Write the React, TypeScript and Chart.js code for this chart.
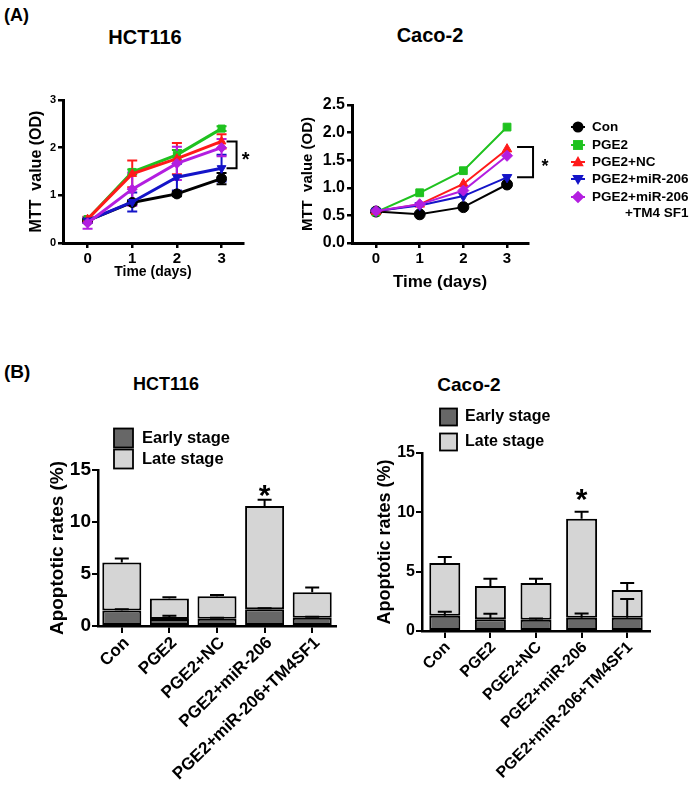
import React, { useEffect, useRef } from 'react';
import { Chart, registerables } from 'chart.js';

Chart.register(...registerables);

const FONT = 'Arial, "Liberation Sans", Helvetica, sans-serif';
Chart.defaults.font.family = FONT;
Chart.defaults.color = '#000';

// ---------- (A) MTT assay data ----------
const days = [0, 1, 2, 3];
const seriesLabels = ['Con', 'PGE2', 'PGE2+NC', 'PGE2+miR-206', 'PGE2+miR-206+TM4SF1'];
const legendLines = [['Con'], ['PGE2'], ['PGE2+NC'], ['PGE2+miR-206'], ['PGE2+miR-206', '+TM4 SF1']];

const hctCon = [0.47, 0.85, 1.03, 1.35];
const hctPGE2 = [0.5, 1.49, 1.85, 2.4];
const hctNC = [0.5, 1.45, 1.77, 2.13];
const hctMiR206 = [0.47, 0.86, 1.38, 1.57];
const hctTM4SF1 = [0.42, 1.13, 1.67, 2.0];

const hctConErr = [0.04, 0.04, 0.05, 0.12];
const hctPGE2Err = [0.04, 0.05, 0.1, 0.05];
const hctNCErr = [0.05, 0.28, 0.33, 0.15];
const hctMiR206Err = [0.05, 0.2, 0.28, 0.28];
const hctTM4SF1Err = [0.12, 0.35, 0.35, 0.18];

const cacoCon = [0.57, 0.52, 0.65, 1.06];
const cacoPGE2 = [0.56, 0.91, 1.31, 2.1];
const cacoNC = [0.57, 0.7, 1.07, 1.7];
const cacoMiR206 = [0.58, 0.68, 0.85, 1.19];
const cacoTM4SF1 = [0.58, 0.7, 0.95, 1.58];

// ---------- (B) apoptosis data ----------
const groups = ['Con', 'PGE2', 'PGE2+NC', 'PGE2+miR-206', 'PGE2+miR-206+TM4SF1'];
const stageLabels = ['Early stage', 'Late stage'];

const hctEarly = [1.5, 0.68, 0.7, 1.6, 0.8];
const hctEarlyErr = [0.1, 0.3, 0.1, 0.1, 0.1];
const hctLate = [4.6, 1.97, 2.15, 9.95, 2.45];
const hctLateErr = [0.4, 0.12, 0.12, 0.6, 0.45];

const cacoEarly = [1.28, 1.0, 0.95, 1.12, 1.12];
const cacoEarlyErr = [0.35, 0.45, 0.1, 0.35, 1.58];
const cacoLate = [4.45, 2.8, 3.1, 8.33, 2.33];
const cacoLateErr = [0.5, 0.6, 0.35, 0.6, 0.6];

// ---------- styles ----------
const seriesColors = ['#000000', '#1fc21f', '#ff1a1a', '#1414c8', '#b31ee0'];
const seriesPointStyles = ['circle', 'rect', 'triangle', 'triangle', 'rectRot'];
const seriesRotations = [0, 0, 0, 180, 0];
const EARLY = '#676767';
const LATE = '#d5d5d5';

// ---------- plugins ----------
function lineErrorPlugin(errs: number[][], capHalf: number, lw: number) {
  return {
    id: 'lineErr',
    beforeDatasetsDraw(chart: any) {
      const ctx = chart.ctx;
      const y = chart.scales.y;
      ctx.save();
      chart.data.datasets.forEach((ds: any, di: number) => {
        const e = errs[di];
        if (!e) return;
        const meta = chart.getDatasetMeta(di);
        meta.data.forEach((pt: any, i: number) => {
          const v = ds.data[i].y;
          const top = y.getPixelForValue(v + e[i]);
          const bot = y.getPixelForValue(v - e[i]);
          ctx.strokeStyle = ds.borderColor;
          ctx.lineWidth = lw;
          ctx.beginPath();
          ctx.moveTo(pt.x, top);
          ctx.lineTo(pt.x, bot);
          ctx.moveTo(pt.x - capHalf, top);
          ctx.lineTo(pt.x + capHalf, top);
          ctx.moveTo(pt.x - capHalf, bot);
          ctx.lineTo(pt.x + capHalf, bot);
          ctx.stroke();
        });
      });
      ctx.restore();
    },
  };
}

function bracketPlugin(xVal: number, fromVal: number, toVal: number, dx1: number, dx2: number, starDx: number, starFont: number) {
  return {
    id: 'bracket',
    afterDatasetsDraw(chart: any) {
      const { ctx } = chart;
      const x = chart.scales.x;
      const y = chart.scales.y;
      const px = x.getPixelForValue(xVal);
      const y1 = y.getPixelForValue(fromVal);
      const y2 = y.getPixelForValue(toVal);
      ctx.save();
      ctx.strokeStyle = '#000';
      ctx.lineWidth = 2;
      ctx.beginPath();
      ctx.moveTo(px + dx1, y1);
      ctx.lineTo(px + dx2, y1);
      ctx.lineTo(px + dx2, y2);
      ctx.lineTo(px + dx1, y2);
      ctx.stroke();
      ctx.fillStyle = '#000';
      ctx.font = `bold ${starFont}px ${FONT}`;
      ctx.textAlign = 'center';
      ctx.textBaseline = 'alphabetic';
      ctx.fillText('*', px + starDx, (y1 + y2) / 2 + starFont * 0.57);
      ctx.restore();
    },
  };
}

function drawMarker(ctx: CanvasRenderingContext2D, style: string, rot: number, x: number, y: number, r: number) {
  ctx.beginPath();
  if (style === 'circle') {
    ctx.arc(x, y, r, 0, Math.PI * 2);
  } else if (style === 'rect') {
    const s = r * 0.9;
    ctx.rect(x - s, y - s, 2 * s, 2 * s);
  } else if (style === 'triangle') {
    const d = rot === 180 ? -1 : 1;
    ctx.moveTo(x, y - d * r * 1.1);
    ctx.lineTo(x - r * 1.05, y + d * r * 0.75);
    ctx.lineTo(x + r * 1.05, y + d * r * 0.75);
    ctx.closePath();
  } else {
    ctx.moveTo(x, y - r * 1.15);
    ctx.lineTo(x + r * 1.15, y);
    ctx.lineTo(x, y + r * 1.15);
    ctx.lineTo(x - r * 1.15, y);
    ctx.closePath();
  }
  ctx.fill();
}

function markerLegendPlugin(markerDx: number, textDx: number, rowDys: number[], fontSize: number, r: number, lineGap: number) {
  return {
    id: 'markerLegend',
    afterDraw(chart: any) {
      const { ctx, chartArea } = chart;
      ctx.save();
      ctx.font = `bold ${fontSize}px ${FONT}`;
      ctx.textBaseline = 'middle';
      legendLines.forEach((lines, i) => {
        const yy = chartArea.top + rowDys[i];
        ctx.fillStyle = seriesColors[i];
        drawMarker(ctx, seriesPointStyles[i], seriesRotations[i], chartArea.right + markerDx, yy, r);
        ctx.strokeStyle = seriesColors[i];
        ctx.lineWidth = 2;
        ctx.beginPath();
        ctx.moveTo(chartArea.right + markerDx - 7, yy);
        ctx.lineTo(chartArea.right + markerDx + 7, yy);
        ctx.stroke();
        ctx.fillStyle = '#000';
        ctx.textAlign = 'left';
        const x0 = chartArea.right + textDx;
        ctx.fillText(lines[0], x0, yy);
        if (lines.length > 1) {
          const w = ctx.measureText(lines[0]).width;
          ctx.textAlign = 'right';
          ctx.fillText(lines[1], x0 + w, yy + lineGap);
        }
      });
      ctx.restore();
    },
  };
}

function barExtrasPlugin(errs: number[][], capHalf: number, starIndex: number, starFont: number, starGap: number,
  boxDx: number, textDx: number, boxSize: number, rowDys: number[], legendFont: number) {
  return {
    id: 'barExtras',
    afterDatasetsDraw(chart: any) {
      const { ctx, chartArea } = chart;
      const y = chart.scales.y;
      const zero = y.getPixelForValue(0);
      ctx.save();
      ctx.strokeStyle = '#000';
      ctx.lineWidth = 2;
      chart.data.datasets.forEach((ds: any, di: number) => {
        const meta = chart.getDatasetMeta(di);
        meta.data.forEach((bar: any, i: number) => {
          const errPx = zero - y.getPixelForValue(errs[di][i]);
          const top = bar.y - errPx;
          ctx.beginPath();
          ctx.moveTo(bar.x, bar.y);
          ctx.lineTo(bar.x, top);
          ctx.moveTo(bar.x - capHalf, top);
          ctx.lineTo(bar.x + capHalf, top);
          ctx.stroke();
        });
      });
      // asterisk
      const last = chart.data.datasets.length - 1;
      const b = chart.getDatasetMeta(last).data[starIndex];
      const errTop = b.y - (zero - y.getPixelForValue(errs[last][starIndex]));
      ctx.fillStyle = '#000';
      ctx.font = `bold ${starFont}px ${FONT}`;
      ctx.textAlign = 'center';
      ctx.textBaseline = 'alphabetic';
      ctx.fillText('*', b.x, errTop - starGap + starFont * 0.57);
      // legend
      ctx.font = `bold ${legendFont}px ${FONT}`;
      ctx.textAlign = 'left';
      ctx.textBaseline = 'middle';
      stageLabels.forEach((lab, i) => {
        const yy = chartArea.top + rowDys[i];
        const bx = chartArea.left + boxDx;
        ctx.fillStyle = i === 0 ? EARLY : LATE;
        ctx.fillRect(bx, yy - boxSize / 2, boxSize, boxSize);
        ctx.lineWidth = 1.8;
        ctx.strokeRect(bx, yy - boxSize / 2, boxSize, boxSize);
        ctx.fillStyle = '#000';
        ctx.fillText(lab, chartArea.left + textDx, yy);
      });
      ctx.restore();
    },
  };
}

// ---------- chart factories ----------
type LineCfg = {
  values: number[][];
  yMax: number;
  yStep: number;
  yDecimals: number;
  pad: { left: number; top: number; right: number; bottom: number };
  yWidth: number;
  xHeight: number;
  yTickFont: number;
  xTickFont: number;
  yTitleFont: number;
  yTitlePad: number;
  xTitleFont: number;
  xTitlePad: number;
  lineWidth: number;
  pointRadius: number;
  plugins: any[];
};

function makeLineChart(canvas: HTMLCanvasElement, cfg: LineCfg) {
  const datasets = cfg.values.map((vals, i) => ({
    label: seriesLabels[i],
    data: days.map((d, j) => ({ x: d, y: vals[j] })),
    borderColor: seriesColors[i],
    backgroundColor: seriesColors[i],
    pointBackgroundColor: seriesColors[i],
    pointBorderColor: seriesColors[i],
    pointStyle: seriesPointStyles[i],
    rotation: seriesRotations[i],
    pointRotation: seriesRotations[i],
    pointRadius: cfg.pointRadius,
    pointBorderWidth: 1,
    borderWidth: cfg.lineWidth,
    tension: 0,
    clip: false,
    order: 4 - i,
  }));
  return new Chart(canvas, {
    type: 'line',
    data: { datasets } as any,
    plugins: cfg.plugins,
    options: {
      responsive: false,
      animation: false,
      events: [],
      layout: { padding: cfg.pad },
      plugins: { legend: { display: false }, tooltip: { enabled: false } },
      scales: {
        x: {
          type: 'linear',
          min: -0.55,
          max: 3.48,
          afterBuildTicks: (s: any) => { s.ticks = days.map((v) => ({ value: v })); },
          afterFit: (s: any) => { s.height = cfg.xHeight; },
          border: { color: '#000', width: 3 },
          grid: { display: true, drawOnChartArea: false, drawTicks: true, tickLength: 5, color: '#000', lineWidth: 2.5 },
          ticks: { color: '#000', font: { size: cfg.xTickFont, weight: 'bold' }, padding: 2, maxRotation: 0, autoSkip: false },
          title: { display: true, text: 'Time (days)', color: '#000', font: { size: cfg.xTitleFont, weight: 'bold' }, padding: { top: 0, bottom: cfg.xTitlePad } },
        },
        y: {
          type: 'linear',
          min: 0,
          max: cfg.yMax,
          afterFit: (s: any) => { s.width = cfg.yWidth; },
          border: { color: '#000', width: 3 },
          grid: { display: true, drawOnChartArea: false, drawTicks: true, tickLength: 5, color: '#000', lineWidth: 2.5 },
          ticks: {
            stepSize: cfg.yStep,
            color: '#000',
            font: { size: cfg.yTickFont, weight: 'bold' },
            padding: 2,
            callback: (v: any) => Number(v).toFixed(cfg.yDecimals),
          },
          title: { display: true, text: 'MTT  value (OD)', color: '#000', font: { size: cfg.yTitleFont, weight: 'bold' }, padding: { top: cfg.yTitlePad, bottom: 0 } },
        },
      },
    } as any,
  });
}

type BarCfg = {
  early: number[];
  late: number[];
  pad: { left: number; top: number; right: number; bottom: number };
  yWidth: number;
  xHeight: number;
  barPct: number;
  rotation: number;
  labelOffset: number;
  xTickFont: number;
  yTickFont: number;
  yTitleFont: number;
  yTitlePad: number;
  plugins: any[];
};

function makeBarChart(canvas: HTMLCanvasElement, cfg: BarCfg) {
  return new Chart(canvas, {
    type: 'bar',
    data: {
      labels: groups,
      datasets: [
        { label: stageLabels[0], data: cfg.early, backgroundColor: EARLY, borderColor: '#000', borderWidth: 2, borderSkipped: false, barPercentage: cfg.barPct, categoryPercentage: 1 },
        { label: stageLabels[1], data: cfg.late, backgroundColor: LATE, borderColor: '#000', borderWidth: 2, borderSkipped: false, barPercentage: cfg.barPct, categoryPercentage: 1 },
      ],
    },
    plugins: cfg.plugins,
    options: {
      responsive: false,
      animation: false,
      events: [],
      layout: { padding: cfg.pad },
      plugins: { legend: { display: false }, tooltip: { enabled: false } },
      scales: {
        x: {
          stacked: true,
          offset: true,
          afterFit: (s: any) => { s.height = cfg.xHeight; },
          border: { color: '#000', width: 2.5 },
          grid: { display: true, offset: false, drawOnChartArea: false, drawTicks: true, tickLength: 7, color: '#000', lineWidth: 2 },
          ticks: { color: '#000', font: { size: cfg.xTickFont, weight: 'bold' }, minRotation: cfg.rotation, maxRotation: cfg.rotation, autoSkip: false, padding: 0, labelOffset: cfg.labelOffset },
        },
        y: {
          stacked: true,
          min: 0,
          max: 15,
          afterFit: (s: any) => { s.width = cfg.yWidth; },
          border: { color: '#000', width: 2.5 },
          grid: { display: true, drawOnChartArea: false, drawTicks: true, tickLength: 6, color: '#000', lineWidth: 2 },
          ticks: { stepSize: 5, color: '#000', font: { size: cfg.yTickFont, weight: 'bold' }, padding: 1 },
          title: { display: true, text: 'Apoptotic rates (%)', color: '#000', font: { size: cfg.yTitleFont, weight: 'bold' }, padding: { top: cfg.yTitlePad, bottom: 0 } },
        },
      },
    } as any,
  });
}

// ---------- components ----------
function ChartBox(props: { left: number; top: number; width: number; height: number; make: (c: HTMLCanvasElement) => Chart }) {
  const ref = useRef<HTMLCanvasElement>(null);
  useEffect(() => {
    const chart = props.make(ref.current as HTMLCanvasElement);
    return () => chart.destroy();
  }, []);
  return (
    <div style={{ position: 'absolute', left: props.left, top: props.top, width: props.width, height: props.height }}>
      <canvas ref={ref} width={props.width} height={props.height} style={{ display: 'block', width: props.width, height: props.height }} />
    </div>
  );
}

function Label(props: { text: string; cx?: number; left?: number; cy: number; size: number; bold?: boolean }) {
  const w = 200;
  const style: any = {
    position: 'absolute',
    top: props.cy - props.size / 2,
    fontFamily: FONT,
    fontSize: props.size,
    lineHeight: `${props.size}px`,
    fontWeight: props.bold === false ? 'normal' : 'bold',
    color: '#000',
    whiteSpace: 'nowrap',
  };
  if (props.cx !== undefined) {
    style.left = props.cx - w / 2;
    style.width = w;
    style.textAlign = 'center';
  } else {
    style.left = props.left;
  }
  return <div style={style}>{props.text}</div>;
}

export default function App() {
  return (
    <div style={{ position: 'absolute', left: 0, top: 0, width: 693, height: 791, background: '#fff', overflow: 'hidden' }}>
      <Label text="(A)" left={4} cy={15} size={18} />
      <Label text="HCT116" cx={145} cy={37} size={20} />
      <Label text="Caco-2" cx={430} cy={35} size={20} />
      <Label text="(B)" left={4} cy={371} size={19} />
      <Label text="HCT116" cx={166} cy={384} size={18} />
      <Label text="Caco-2" cx={469} cy={384} size={19} />

      <ChartBox left={0} top={85} width={262} height={210} make={(c) => makeLineChart(c, {
        values: [hctCon, hctPGE2, hctNC, hctMiR206, hctTM4SF1],
        yMax: 3, yStep: 1, yDecimals: 0,
        pad: { left: 0, top: 15, right: 19, bottom: 0 },
        yWidth: 63, xHeight: 52,
        yTickFont: 11, xTickFont: 15, yTitleFont: 16, yTitlePad: 27, xTitleFont: 14, xTitlePad: 14,
        lineWidth: 3, pointRadius: 5,
        plugins: [
          lineErrorPlugin([hctConErr, hctPGE2Err, hctNCErr, hctMiR206Err, hctTM4SF1Err], 5, 2),
          bracketPlugin(3, hctNC[3], hctMiR206[3], 5, 15, 24, 20),
        ],
      })} />

      <ChartBox left={270} top={85} width={423} height={215} make={(c) => makeLineChart(c, {
        values: [cacoCon, cacoPGE2, cacoNC, cacoMiR206, cacoTM4SF1],
        yMax: 2.5, yStep: 0.5, yDecimals: 1,
        pad: { left: 0, top: 20, right: 165, bottom: 0 },
        yWidth: 82, xHeight: 57,
        yTickFont: 16, xTickFont: 15, yTitleFont: 15, yTitlePad: 29, xTitleFont: 17, xTitlePad: 7,
        lineWidth: 2, pointRadius: 5.5,
        plugins: [
          bracketPlugin(3, cacoNC[3] + 0.04, cacoMiR206[3], 10, 26, 38, 18),
          markerLegendPlugin(50, 64, [22, 40, 57, 74, 92], 13.5, 5.5, 16),
        ],
      })} />

      <ChartBox left={0} top={395} width={345} height={396} make={(c) => makeBarChart(c, {
        early: hctEarly, late: hctLate,
        pad: { left: 0, top: 75, right: 9, bottom: 0 },
        yWidth: 98, xHeight: 165, barPct: 0.82, rotation: 44, labelOffset: 5,
        xTickFont: 17, yTickFont: 19, yTitleFont: 19, yTitlePad: 46,
        plugins: [barExtrasPlugin([hctEarlyErr, hctLateErr], 7, 3, 30, 12, 16, 44, 19, [-32, -11], 16.5)],
      })} />

      <ChartBox left={345} top={395} width={348} height={396} make={(c) => makeBarChart(c, {
        early: cacoEarly, late: cacoLate,
        pad: { left: 0, top: 58, right: 43, bottom: 0 },
        yWidth: 77, xHeight: 160, barPct: 0.68, rotation: 45, labelOffset: 3,
        xTickFont: 16, yTickFont: 16, yTitleFont: 18, yTitlePad: 29,
        plugins: [barExtrasPlugin([cacoEarlyErr, cacoLateErr], 7, 3, 30, 20, 18, 43, 17, [-36, -11], 16)],
      })} />
    </div>
  );
}
